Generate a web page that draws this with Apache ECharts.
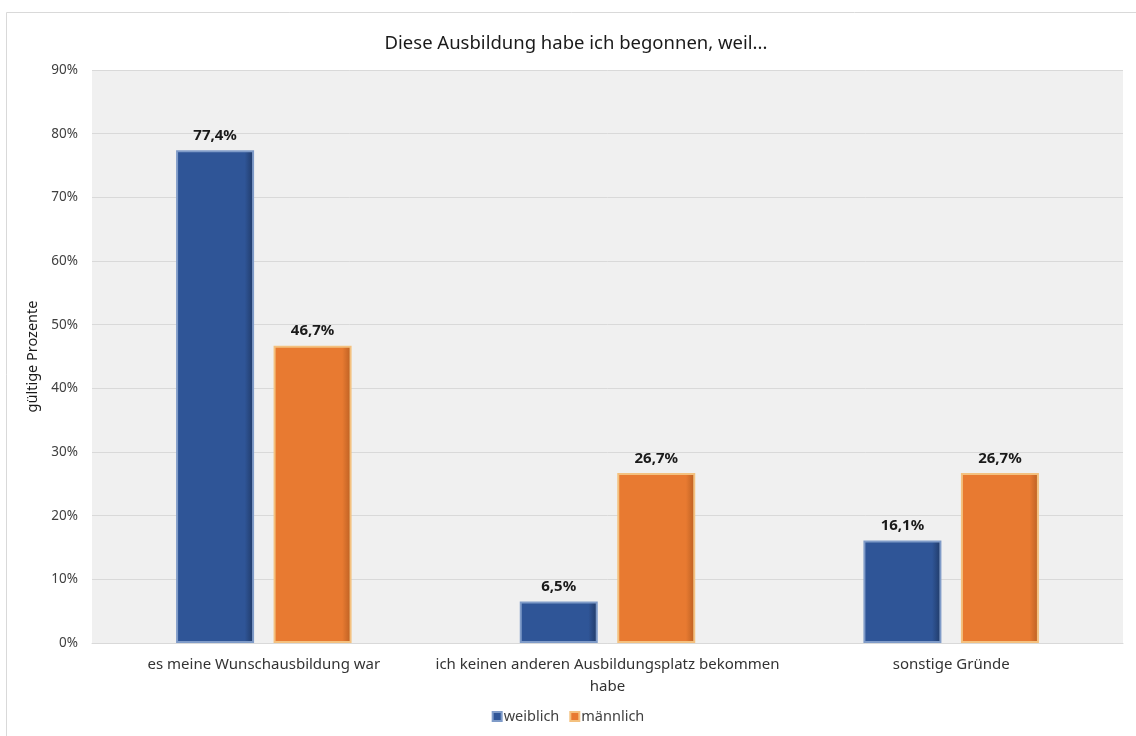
<!DOCTYPE html>
<html><head><meta charset="utf-8">
<script src="https://cdn.jsdelivr.net/npm/echarts@6/dist/echarts.min.js"></script>
<style>html,body{margin:0;padding:0;background:#fff}#c{width:1136px;height:736px}</style>
</head><body><div id="c"></div>
<script>
const title = 'Diese Ausbildung habe ich begonnen, weil...';
const categories = ['es meine Wunschausbildung war', 'ich keinen anderen Ausbildungsplatz bekommen\nhabe', 'sonstige Gründe'];
const weiblich = [77.4, 6.5, 16.1];
const maennlich = [46.7, 26.7, 26.7];
const seriesNames = ['weiblich', 'männlich'];
const yTicks = [0, 10, 20, 30, 40, 50, 60, 70, 80, 90];
const yAxisName = 'gültige Prozente';

const font = '"Noto Sans", "Open Sans", sans-serif';
const chart = echarts.init(document.getElementById('c'), null, {renderer: 'canvas'});
function fmt(v){ return v.toFixed(1).replace('.', ',') + '%'; }
function barSeries(name, data, color, border, shade){
  return {
    name: name, type: 'bar', data: data,
    barWidth: 78, barGap: '25%',
    itemStyle: {
      color: {type:'linear', x:0, y:0, x2:1, y2:0, colorStops:[
        {offset:0, color: color}, {offset:0.88, color: color}, {offset:1, color: shade}]},
      borderColor: border, borderWidth: 2
    },
    label: {show: true, position: 'top', distance: 7, formatter: p => fmt(p.value),
      fontFamily: font, fontWeight: 'bold', fontSize: 15, color: '#1a1a1a'}
  };
}
chart.setOption({
  backgroundColor: '#fff',
  animation: false,
  title: {text: title, left: 571, textAlign: 'center', top: 29,
    textStyle: {fontFamily: font, fontWeight: 'normal', fontSize: 18.5, color: '#1a1a1a'}},
  legend: {data: seriesNames, bottom: 7, left: 'center', icon: 'rect', itemWidth: 9, itemHeight: 9, itemGap: 10,
    textStyle: {fontFamily: font, fontSize: 14.5, color: '#404040', padding: [0,0,0,-3]}},
  grid: {left: 92, right: 13, top: 70, bottom: 93, backgroundColor: '#f0f0f0', show: true, borderWidth: 0},
  xAxis: {type: 'category', data: categories,
    axisLine: {show: true, lineStyle: {color: '#d9d9d9'}}, axisTick: {show: false},
    axisLabel: {fontFamily: font, fontSize: 15, color: '#333', margin: 11, lineHeight: 22, interval: 0}},
  yAxis: {type: 'value', min: 0, max: 90, interval: 10,
    name: yAxisName, nameLocation: 'middle', nameGap: 52, nameRotate: 90,
    nameTextStyle: {fontFamily: font, fontSize: 14.5, color: '#1a1a1a'},
    axisLabel: {fontFamily: font, fontSize: 13.5, color: '#404040', margin: 14,
      formatter: v => yTicks.includes(v) ? v + '%' : ''},
    axisLine: {show: false}, axisTick: {show: false},
    splitLine: {lineStyle: {color: '#d9d9d9'}}},
  series: [
    barSeries(seriesNames[0], weiblich, '#2f5597', '#7f9bc8', '#1f3864'),
    barSeries(seriesNames[1], maennlich, '#e87a31', '#f4c17f', '#b85e22')
  ],
  graphic: [{type: 'rect', shape: {x: 6.5, y: 12.5, width: 1140, height: 740},
    style: {fill: 'none', stroke: '#d9d9d9', lineWidth: 1}, silent: true, z: -1}]
});
</script></body></html>
